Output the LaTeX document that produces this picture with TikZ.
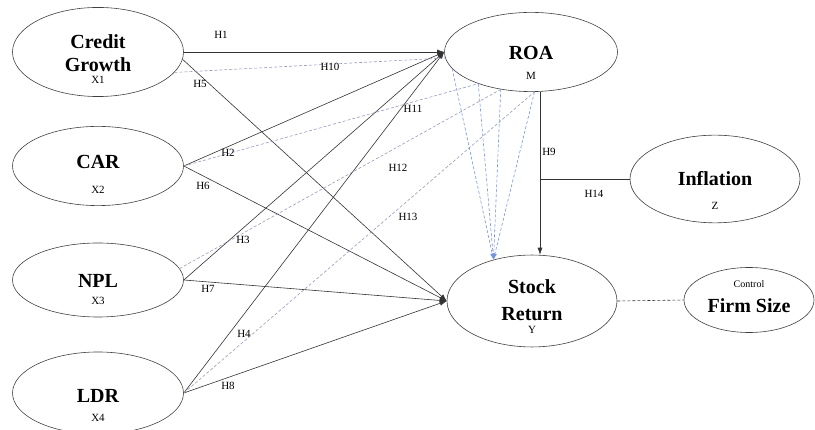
\documentclass[tikz,border=0pt]{standalone}
\usepackage{fontspec}
\setmainfont{Liberation Serif}
\usetikzlibrary{shapes.geometric,arrows.meta}

\definecolor{dashgray}{RGB}{150,155,190}
\definecolor{dashblue}{RGB}{85,120,210}
\newcommand{\vpad}[1]{\rule{0pt}{#1}}
\newcommand{\subl}[1]{{\fontsize{11}{12}\selectfont\mdseries #1}}

\begin{document}
\begin{tikzpicture}[x=1pt,y=-1pt,
    var/.style = {ellipse,draw=black!75,semithick,minimum width=171pt,minimum height=74pt,inner sep=0pt,align=center,font=\fontsize{20}{23}\selectfont\bfseries},
    arr/.style = {draw=black!80,semithick,-{Latex[length=7pt,width=5pt]}},
    ind/.style = {draw=dashgray,semithick,dash pattern=on 3pt off 2pt},
    back/.style = {draw=dashblue!80,semithick,dash pattern=on 3pt off 2pt,-{Latex[length=6pt,width=4pt]}},
    lbl/.style = {font=\fontsize{11}{12}\selectfont,inner sep=1pt}]
\useasboundingbox (0,0) rectangle (815,430);

% constructs
\node[var] (CG)  at (98,52)  {\vpad{28pt}Credit\\Growth\\[-11pt]\subl{X1}};
\node[var] (CAR) at (98,166) {\vpad{31pt}CAR\\[2pt]\subl{X2}};
\node[var] (NPL) at (98,280) {\vpad{33pt}NPL\\[-6pt]\subl{X3}};
\node[var,minimum height=72pt] (LDR) at (98,393) {\vpad{39pt}LDR\\[-4pt]\subl{X4}};
\node[var,minimum width=173pt] (ROA) at (531,52) {\vpad{36pt}ROA\\[-3pt]\subl{M}};
\node[var,minimum width=170pt,minimum height=72pt] (INF) at (715,179) {\vpad{38pt}Inflation\\[1pt]\subl{Z}};
\node[var,minimum width=170pt,minimum height=78pt] (SR) at (532,301) {\vpad{25pt}Stock\\[4pt]Return\\[-10pt]\subl{Y}};
\node[var,minimum width=130pt,minimum height=65pt] (FS) at (749,300) {{\fontsize{10}{11}\selectfont\mdseries Control}\\[2pt]Firm Size\rule[-7pt]{0pt}{7pt}};

% direct effects
\draw[arr] (CG.east) -- (ROA.west);
\draw[arr] (CG.-5) -- (SR.west);
\draw[arr] (CAR.east) -- (ROA.west);
\draw[arr] (CAR.east) -- (SR.west);
\draw[arr] (NPL.east) -- (ROA.west);
\draw[arr] (NPL.east) -- (SR.west);
\draw[arr] (LDR.east) -- (ROA.west);
\draw[arr] (LDR.east) -- (SR.west);

% mediated effects
\draw[ind] (CG.-15) -- (ROA.184);
\draw[ind] (CAR.east) -- (ROA.211);
\draw[ind] (NPL.8) -- (ROA.231);
\draw[ind] (LDR.east) -- (ROA.275);
\foreach \a in {192,211,231,275} \draw[back] (ROA.\a) -- (SR.133);

% ROA -> return, moderator, control
\coordinate (h9top) at ([xshift=9pt]ROA.south);
\draw[arr] (h9top) -- (h9top |- SR.north);
\draw[draw=black!80,semithick] (INF.west) -- (INF.west -| h9top);
\draw[draw=black!80,semithick,dash pattern=on 3pt off 2pt] (SR.east) -- (FS.west);

% hypothesis labels
\node[lbl] (l1)  at (221,35)  {H1};
\node[lbl] (l10) at (330,67)  {H10};
\node[lbl] (l5)  at (200,84)  {H5};
\node[lbl] (l11) at (413,109) {H11};
\node[lbl] (l2)  at (228,153) {H2};
\node[lbl] (l12) at (398,168) {H12};
\node[lbl] (l6)  at (203,186) {H6};
\node[lbl] (l13) at (408,217) {H13};
\node[lbl] (l3)  at (243,240) {H3};
\node[lbl] (l7)  at (208,289) {H7};
\node[lbl] (l4)  at (244,334) {H4};
\node[lbl] (l8)  at (228,386) {H8};
\node[lbl] (l9)  at (549,152) {H9};
\node[lbl] (l14) at (594,194) {H14};
\end{tikzpicture}
\end{document}
